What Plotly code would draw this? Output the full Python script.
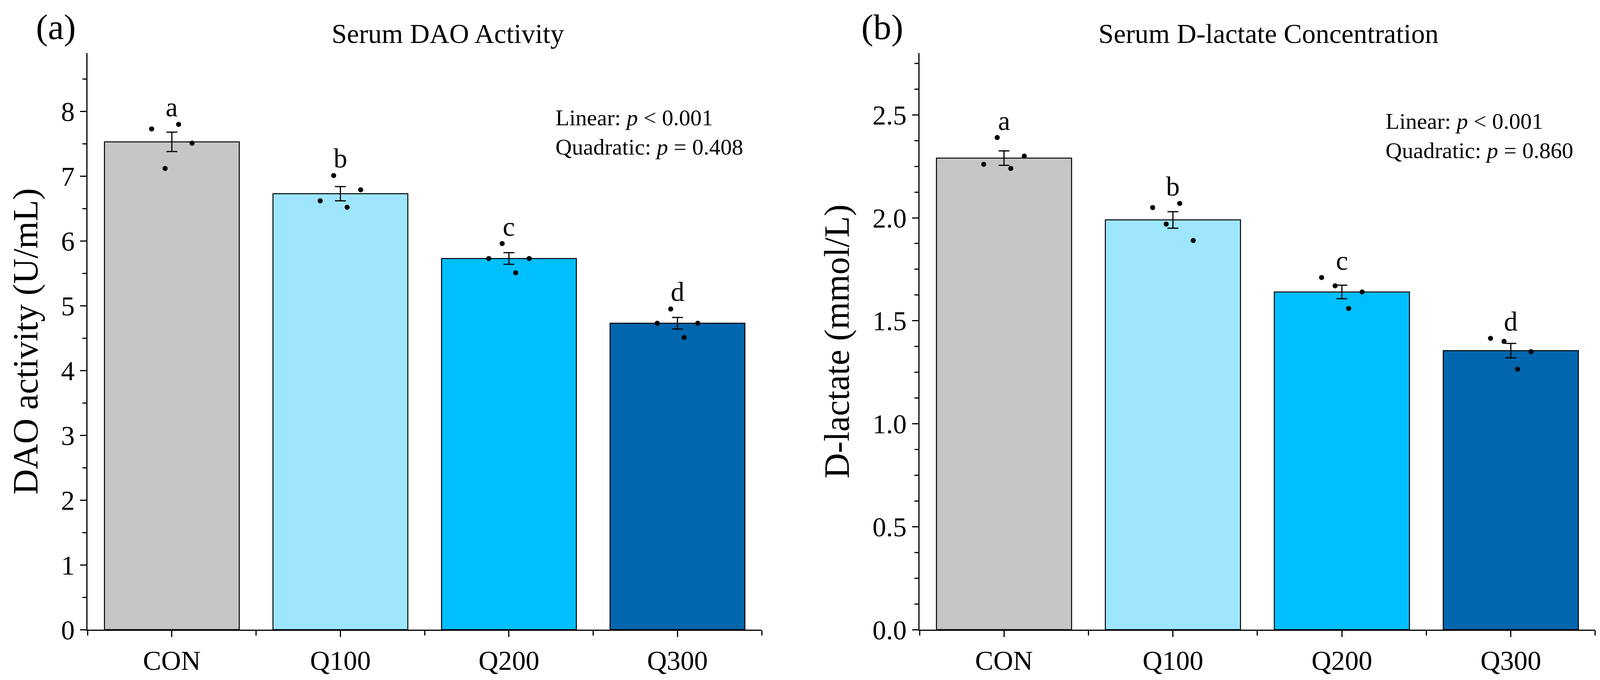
import plotly.graph_objects as go

groups = ["CON", "Q100", "Q200", "Q300"]
colors = ["#C6C6C6", "#9EE6FD", "#00BFFF", "#0066AD"]
letters = ["a", "b", "c", "d"]

dao_mean = [7.53, 6.73, 5.73, 4.73]
dao_se = [0.15, 0.11, 0.09, 0.09]
dao_points = [[7.73, 7.12, 7.80, 7.51],
              [6.62, 7.01, 6.52, 6.79],
              [5.73, 5.96, 5.51, 5.73],
              [4.73, 4.95, 4.51, 4.73]]

dlac_mean = [2.29, 1.99, 1.64, 1.355]
dlac_se = [0.035, 0.04, 0.033, 0.035]
dlac_points = [[2.26, 2.39, 2.24, 2.30],
               [2.05, 1.97, 2.07, 1.89],
               [1.71, 1.67, 1.56, 1.64],
               [1.415, 1.40, 1.265, 1.35]]

jitter = [-0.12, -0.04, 0.04, 0.12]
FONT = "Liberation Serif"

fig = go.Figure()


def add_panel(means, ses, points, xa, ya, pad):
    fig.add_trace(go.Bar(
        x=list(range(len(groups))), y=means, width=0.8,
        marker=dict(color=colors, line=dict(color="black", width=2.5)),
        error_y=dict(type="data", array=ses, color="black", thickness=3, width=14),
        xaxis=xa, yaxis=ya, showlegend=False))
    xs, ys = [], []
    for i, pts in enumerate(points):
        for j, v in enumerate(pts):
            xs.append(i + jitter[j])
            ys.append(v)
    fig.add_trace(go.Scatter(x=xs, y=ys, mode="markers",
                             marker=dict(color="black", size=13),
                             xaxis=xa, yaxis=ya, showlegend=False))
    for i, pts in enumerate(points):
        fig.add_annotation(x=i, y=max(pts) + pad, text=letters[i], showarrow=False,
                           xref=xa, yref=ya, yanchor="bottom",
                           font=dict(family=FONT, size=70, color="black"))


add_panel(dao_mean, dao_se, dao_points, "x", "y", 0.02)
add_panel(dlac_mean, dlac_se, dlac_points, "x2", "y2", 0.005)

axis_common = dict(showline=True, linecolor="black", linewidth=3, ticks="outside",
                   ticklen=16, tickwidth=3, tickcolor="black", showgrid=False,
                   zeroline=False, automargin=False,
                   tickfont=dict(family=FONT, size=70, color="black"))
xcommon = dict(axis_common, range=[-0.5, 3.5], tickvals=[0, 1, 2, 3], ticktext=groups,
               minor=dict(ticks="outside", tick0=-0.5, dtick=1, ticklen=12,
                          tickwidth=3, tickcolor="black"))

fig.update_layout(
    autosize=True, plot_bgcolor="white", paper_bgcolor="white",
    margin=dict(l=0, r=0, t=0, b=0), bargap=0.2,
    xaxis=dict(xcommon, domain=[0.053, 0.476], anchor="y"),
    xaxis2=dict(xcommon, domain=[0.575, 0.999], anchor="y2"),
    yaxis=dict(axis_common, domain=[0.0786, 0.9265], range=[0, 8.9], dtick=1,
               anchor="x",
               minor=dict(ticks="outside", dtick=0.5, ticklen=10, tickwidth=3,
                          tickcolor="black"),
               title=dict(text="DAO activity (U/mL)", standoff=30,
                          font=dict(family=FONT, size=90, color="black"))),
    yaxis2=dict(axis_common, domain=[0.0786, 0.9265], range=[0, 2.8], dtick=0.5,
                tickformat=".1f", anchor="x2",
                minor=dict(ticks="outside", dtick=0.125, ticklen=10, tickwidth=3,
                           tickcolor="black"),
                title=dict(text="D-lactate (mmol/L)", standoff=30,
                           font=dict(family=FONT, size=90, color="black"))),
)

texts = [
    ("(a)", 0.020, 0.965, 92, "left"),
    ("(b)", 0.538, 0.965, 92, "left"),
    ("Serum DAO Activity", 0.279, 0.955, 70, "center"),
    ("Serum D-lactate Concentration", 0.794, 0.955, 70, "center"),
    ("Linear: <i>p</i> < 0.001<br>Quadratic: <i>p</i> = 0.408", 0.346, 0.81, 58, "left"),
    ("Linear: <i>p</i> < 0.001<br>Quadratic: <i>p</i> = 0.860", 0.867, 0.805, 58, "left"),
]
for t, x, y, s, anc in texts:
    fig.add_annotation(text=t, x=x, y=y, xref="paper", yref="paper", showarrow=False,
                       xanchor=anc, yanchor="middle", align="left",
                       font=dict(family=FONT, size=s, color="black"))

fig.write_html("out.html", default_width="100%", default_height="100vh")
